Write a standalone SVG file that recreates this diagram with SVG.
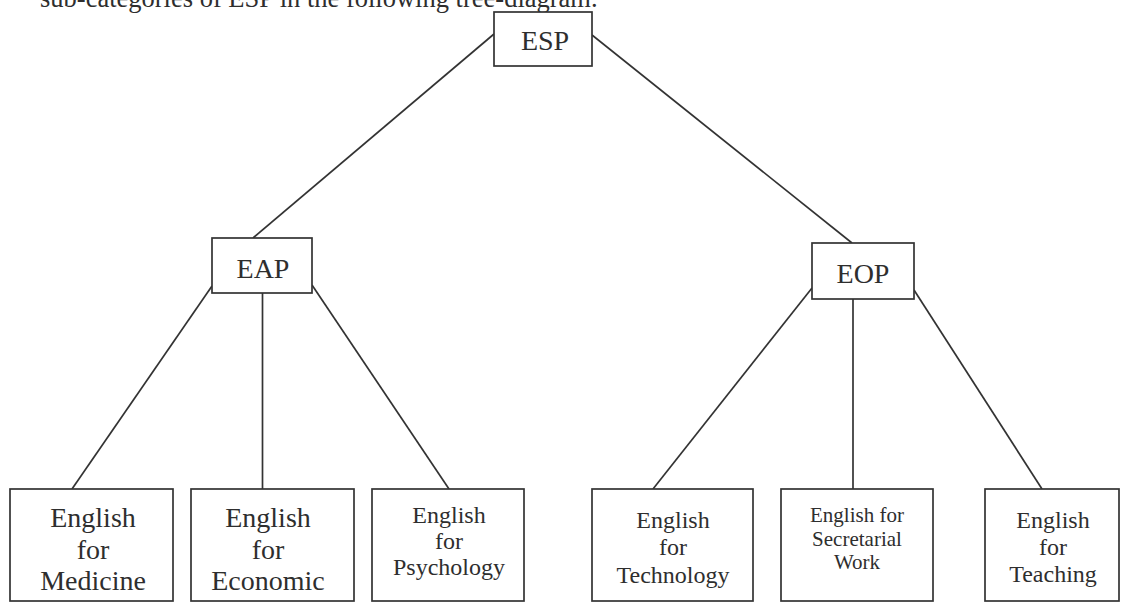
<svg xmlns="http://www.w3.org/2000/svg" width="1127" height="602" viewBox="0 0 1127 602">
<style>
.box{fill:#fff;stroke:#333;stroke-width:1.7}
.t{font-family:"Liberation Serif","Times New Roman",serif;fill:#2e2e2e;text-anchor:middle}
.big{font-size:28px}
.leaf{font-size:28px}
.md{font-size:24px}
.xs{font-size:21px}
.edge{stroke:#333;stroke-width:1.7;fill:none}
</style>
<rect width="1127" height="602" fill="#fff"/>
<text x="40" y="7" style="font-family:'Liberation Serif','Times New Roman',serif;font-size:26.5px;fill:#2e2e2e">sub-categories of ESP in the following tree-diagram.</text>
<g id="connectors">
<line class="edge" x1="494" y1="34" x2="253" y2="238"/>
<line class="edge" x1="592" y1="35" x2="852" y2="243"/>
<line class="edge" x1="212" y1="286" x2="72" y2="489"/>
<line class="edge" x1="262.5" y1="293" x2="262.5" y2="489"/>
<line class="edge" x1="312" y1="285" x2="449" y2="489"/>
<line class="edge" x1="812" y1="288" x2="653" y2="489"/>
<line class="edge" x1="853" y1="299" x2="853" y2="489"/>
<line class="edge" x1="914" y1="290" x2="1042" y2="489"/>
</g>
<g id="esp"><rect class="box" x="494" y="12" width="98" height="54"/><text class="t big" x="545" y="50">ESP</text></g>
<g id="eap"><rect class="box" x="212" y="238" width="100" height="55"/><text class="t big" x="263" y="278">EAP</text></g>
<g id="eop"><rect class="box" x="812" y="243" width="102" height="56"/><text class="t big" x="863" y="283">EOP</text></g>
<g id="medicine"><rect class="box" x="10" y="489" width="163" height="112"/><text class="t leaf" x="93" y="527">English</text><text class="t leaf" x="93" y="559">for</text><text class="t leaf" x="93" y="590">Medicine</text></g>
<g id="economic"><rect class="box" x="191" y="489" width="163" height="112"/><text class="t leaf" x="268" y="527">English</text><text class="t leaf" x="268" y="559">for</text><text class="t leaf" x="268" y="590">Economic</text></g>
<g id="psychology"><rect class="box" x="372" y="489" width="152" height="112"/><text class="t md" x="449" y="523">English</text><text class="t md" x="449" y="549">for</text><text class="t md" x="449" y="575">Psychology</text></g>
<g id="technology"><rect class="box" x="592" y="489" width="161" height="112"/><text class="t md" x="673" y="528">English</text><text class="t md" x="673" y="555">for</text><text class="t md" x="673" y="583">Technology</text></g>
<g id="secretarial"><rect class="box" x="781" y="489" width="152" height="112"/><text class="t xs" x="857" y="522">English for</text><text class="t xs" x="857" y="546">Secretarial</text><text class="t xs" x="857" y="569">Work</text></g>
<g id="teaching"><rect class="box" x="985" y="489" width="134" height="112"/><text class="t md" x="1053" y="528">English</text><text class="t md" x="1053" y="555">for</text><text class="t md" x="1053" y="582">Teaching</text></g>
</svg>
